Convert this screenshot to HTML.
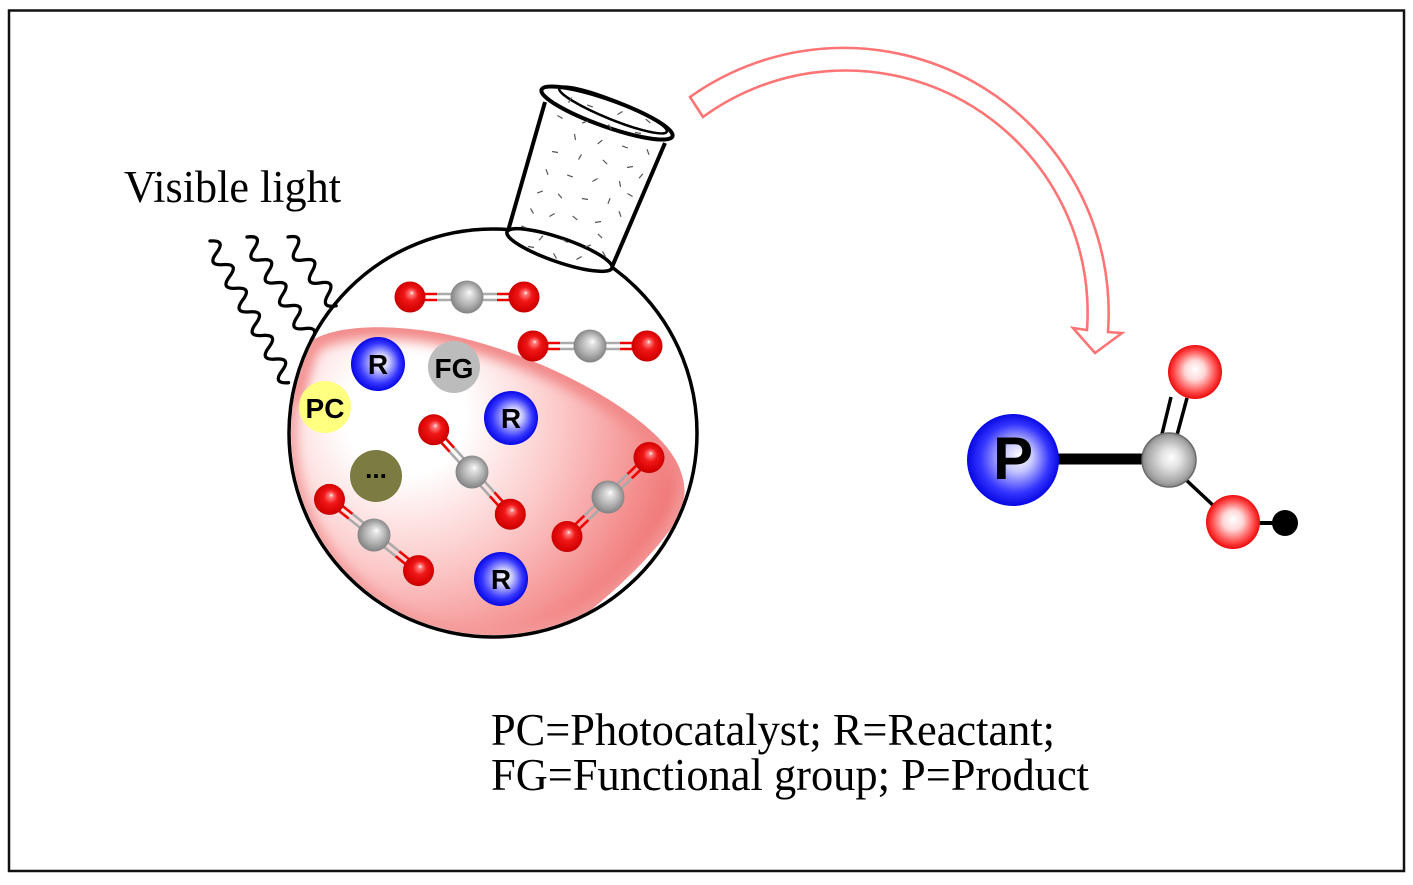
<!DOCTYPE html>
<html><head><meta charset="utf-8"><style>
html,body{margin:0;padding:0;background:#fff;}
svg{display:block;}
</style></head><body>
<svg width="1413" height="885" viewBox="0 0 1413 885" xmlns="http://www.w3.org/2000/svg">
<defs>
<radialGradient id="gO" cx="0.5" cy="0.5" r="0.55" fx="0.56" fy="0.36">
<stop offset="0" stop-color="#fff"/><stop offset="0.12" stop-color="#ff7a7a"/><stop offset="0.4" stop-color="#f01818"/><stop offset="0.85" stop-color="#d40000"/><stop offset="1" stop-color="#a00000"/>
</radialGradient>
<radialGradient id="gC" cx="0.5" cy="0.5" r="0.55" fx="0.58" fy="0.36">
<stop offset="0" stop-color="#fff"/><stop offset="0.15" stop-color="#e4e4e4"/><stop offset="0.55" stop-color="#b4b4b4"/><stop offset="1" stop-color="#787878"/>
</radialGradient>
<radialGradient id="gB" cx="0.5" cy="0.5" r="0.52" fx="0.58" fy="0.45">
<stop offset="0" stop-color="#fff"/><stop offset="0.3" stop-color="#c8c8ff"/><stop offset="0.72" stop-color="#3535ff"/><stop offset="1" stop-color="#0000e0"/>
</radialGradient>
<radialGradient id="gPO" cx="0.5" cy="0.5" r="0.52" fx="0.5" fy="0.45">
<stop offset="0" stop-color="#fff"/><stop offset="0.35" stop-color="#ffd8d8"/><stop offset="0.75" stop-color="#ff4a4a"/><stop offset="1" stop-color="#e80000"/>
</radialGradient>
<radialGradient id="gPC" cx="0.5" cy="0.5" r="0.52" fx="0.55" fy="0.45">
<stop offset="0" stop-color="#fff"/><stop offset="0.35" stop-color="#e2e2e2"/><stop offset="0.8" stop-color="#a8a8a8"/><stop offset="1" stop-color="#808080"/>
</radialGradient>
<radialGradient id="gL" gradientUnits="userSpaceOnUse" cx="405" cy="415" r="300">
<stop offset="0" stop-color="#fff"/><stop offset="0.2" stop-color="#fff"/><stop offset="0.52" stop-color="#fcc8c8"/><stop offset="0.82" stop-color="#f48c8c"/><stop offset="1" stop-color="#ee6a6a"/>
</radialGradient>
<clipPath id="cc"><circle cx="493" cy="433" r="202"/></clipPath>
<clipPath id="cb"><path d="M305 345 C330 325 380 325 420 330 C500 340 600 385 650 430 C690 465 692 500 672 527 C645 565 600 605 540 650 L260 680 L260 345 Z"/></clipPath>
<filter id="bl" x="-20%" y="-20%" width="140%" height="140%"><feGaussianBlur stdDeviation="6"/></filter>
</defs>

<rect x="9" y="10.5" width="1395" height="860.5" fill="none" stroke="#111" stroke-width="2.5"/>

<!-- liquid -->
<g clip-path="url(#cc)">
<g clip-path="url(#cb)">
<rect x="260" y="300" width="460" height="400" fill="url(#gL)"/>
<path d="M290 400 L305 345 C330 325 380 325 420 330 C500 340 600 385 650 430 C690 465 692 500 672 527 C645 565 600 605 540 650" fill="none" stroke="#f28888" stroke-width="22" filter="url(#bl)"/>
<circle cx="493" cy="433" r="204" fill="none" stroke="#f49a9a" stroke-width="14" filter="url(#bl)"/>
</g>
</g>
<circle cx="493" cy="433" r="204" fill="none" stroke="#000" stroke-width="3.5"/>

<!-- neck -->
<path d="M541 92 L673 137 L612 268 L507 232 Z" fill="#fff"/>
<ellipse cx="559.5" cy="250" rx="55.5" ry="12" transform="rotate(19 559.5 250)" fill="#fff" stroke="#000" stroke-width="3.5"/>
<line x1="545" y1="102" x2="508" y2="231" stroke="#000" stroke-width="4"/>
<line x1="665" y1="143" x2="612" y2="267" stroke="#000" stroke-width="4"/>
<ellipse cx="607" cy="113" rx="69.5" ry="13.5" transform="rotate(19.6 607 113)" fill="#fff" stroke="#000" stroke-width="4"/>
<ellipse cx="613" cy="110" rx="58" ry="9.5" transform="rotate(22 613 110)" fill="none" stroke="#000" stroke-width="2.5"/>
<g stroke="#555" stroke-width="1.2" fill="none">
<path d="M-3 0h6" transform="translate(590 106) rotate(20)"/>
<path d="M-3 0h6" transform="translate(620 113) rotate(-30)"/>
<path d="M-3 0h6" transform="translate(648 121) rotate(40)"/>
<path d="M-3 0h6" transform="translate(570 100) rotate(-60)"/>
<path d="M-3 0h6" transform="translate(560 117) rotate(30)"/>
<path d="M-3 0h6" transform="translate(585 122) rotate(-20)"/>
<path d="M-3 0h6" transform="translate(610 127) rotate(60)"/>
<path d="M-3 0h6" transform="translate(638 133) rotate(10)"/>
<path d="M-3 0h6" transform="translate(575 137) rotate(80)"/>
<path d="M-3 0h6" transform="translate(600 142) rotate(-40)"/>
<path d="M-3 0h6" transform="translate(625 147) rotate(20)"/>
<path d="M-3 0h6" transform="translate(648 152) rotate(70)"/>
<path d="M-3 0h6" transform="translate(555 152) rotate(10)"/>
<path d="M-3 0h6" transform="translate(580 157) rotate(-60)"/>
<path d="M-3 0h6" transform="translate(605 162) rotate(45)"/>
<path d="M-3 0h6" transform="translate(630 167) rotate(-10)"/>
<path d="M-3 0h6" transform="translate(547 172) rotate(70)"/>
<path d="M-3 0h6" transform="translate(570 176) rotate(20)"/>
<path d="M-3 0h6" transform="translate(595 180) rotate(-30)"/>
<path d="M-3 0h6" transform="translate(620 184) rotate(80)"/>
<path d="M-3 0h6" transform="translate(641 176) rotate(-50)"/>
<path d="M-3 0h6" transform="translate(540 192) rotate(-20)"/>
<path d="M-3 0h6" transform="translate(560 196) rotate(50)"/>
<path d="M-3 0h6" transform="translate(585 199) rotate(10)"/>
<path d="M-3 0h6" transform="translate(609 201) rotate(-70)"/>
<path d="M-3 0h6" transform="translate(630 195) rotate(30)"/>
<path d="M-3 0h6" transform="translate(532 211) rotate(60)"/>
<path d="M-3 0h6" transform="translate(552 215) rotate(-30)"/>
<path d="M-3 0h6" transform="translate(575 218) rotate(40)"/>
<path d="M-3 0h6" transform="translate(598 222) rotate(-10)"/>
<path d="M-3 0h6" transform="translate(620 214) rotate(70)"/>
<path d="M-3 0h6" transform="translate(524 227) rotate(20)"/>
<path d="M-3 0h6" transform="translate(541 238) rotate(-50)"/>
<path d="M-3 0h6" transform="translate(565 241) rotate(30)"/>
<path d="M-3 0h6" transform="translate(588 246) rotate(-20)"/>
<path d="M-3 0h6" transform="translate(604 254) rotate(60)"/>
<path d="M-3 0h6" transform="translate(555 256) rotate(60)"/>
<path d="M-3 0h6" transform="translate(579 258) rotate(-30)"/>
<path d="M-3 0h6" transform="translate(600 236) rotate(45)"/>
<path d="M-3 0h6" transform="translate(531 247) rotate(10)"/>
</g>

<!-- light waves -->
<g fill="none" stroke="#000" stroke-width="3.3" stroke-linecap="round">
<path transform="translate(210 241) rotate(61)" d="M0 0 q6.75 -15 13.5 0 t13.5 0 t13.5 0 t13.5 0 t13.5 0 t13.5 0 t13.5 0 t13.5 0 t13.5 0 t13.5 0 t13.5 0 t13.5 0"/>
<path transform="translate(247 237) rotate(58)" d="M0 0 q6.75 -15 13.5 0 t13.5 0 t13.5 0 t13.5 0 t13.5 0 t13.5 0 t13.5 0 t13.5 0 t13.5 0"/>
<path transform="translate(288 237) rotate(55)" d="M0 0 q7 -15 14 0 t14 0 t14 0 t14 0 t14 0 t14 0"/>
</g>
<text x="124" y="202" font-family="Liberation Serif, serif" font-size="45" textLength="217" lengthAdjust="spacingAndGlyphs">Visible light</text>

<!-- CO2 bonds -->
<g stroke-width="2.6">
<g transform="translate(467 297)"><path d="M-44 -3H-30M-44 3H-30M30 -3H44M30 3H44" stroke="#e00"/><path d="M-30 -3H-14M-30 3H-14M14 -3H30M14 3H30" stroke="#aaa"/></g>
<g transform="translate(590 346)"><path d="M-44 -3H-30M-44 3H-30M30 -3H44M30 3H44" stroke="#e00"/><path d="M-30 -3H-14M-30 3H-14M14 -3H30M14 3H30" stroke="#aaa"/></g>
<g transform="translate(472 472) rotate(47.8)"><path d="M-44 -3H-30M-44 3H-30M30 -3H44M30 3H44" stroke="#e00"/><path d="M-30 -3H-14M-30 3H-14M14 -3H30M14 3H30" stroke="#aaa"/></g>
<g transform="translate(608 497) rotate(-43.9)"><path d="M-44 -3H-30M-44 3H-30M30 -3H44M30 3H44" stroke="#e00"/><path d="M-30 -3H-14M-30 3H-14M14 -3H30M14 3H30" stroke="#aaa"/></g>
<g transform="translate(374 535) rotate(38.7)"><path d="M-44 -3H-30M-44 3H-30M30 -3H44M30 3H44" stroke="#e00"/><path d="M-30 -3H-14M-30 3H-14M14 -3H30M14 3H30" stroke="#aaa"/></g>
</g>
<!-- CO2 spheres -->
<g>
<circle cx="410" cy="297" r="15.5" fill="url(#gO)"/><circle cx="467" cy="297" r="16.5" fill="url(#gC)"/><circle cx="524" cy="297" r="15.5" fill="url(#gO)"/>
<circle cx="533" cy="346" r="15.5" fill="url(#gO)"/><circle cx="590" cy="346" r="16.5" fill="url(#gC)"/><circle cx="647" cy="346" r="15.5" fill="url(#gO)"/>
<circle cx="433.7" cy="429.8" r="15.5" fill="url(#gO)"/><circle cx="472" cy="472" r="16.5" fill="url(#gC)"/><circle cx="510.3" cy="514.2" r="15.5" fill="url(#gO)"/>
<circle cx="649" cy="457.5" r="15.5" fill="url(#gO)"/><circle cx="608" cy="497" r="16.5" fill="url(#gC)"/><circle cx="567" cy="536.5" r="15.5" fill="url(#gO)"/>
<circle cx="329.5" cy="499.4" r="15.5" fill="url(#gO)"/><circle cx="374" cy="535" r="16.5" fill="url(#gC)"/><circle cx="418.5" cy="570.6" r="15.5" fill="url(#gO)"/>
</g>

<!-- species balls -->
<g font-family="Liberation Sans, Arial, sans-serif" font-weight="bold" text-anchor="middle" fill="#000">
<circle cx="378" cy="364" r="27" fill="url(#gB)"/><text x="378" y="374" font-size="28">R</text>
<circle cx="454" cy="367" r="26" fill="#bcbcbc"/><text x="454" y="378" font-size="28">FG</text>
<circle cx="325" cy="407" r="26" fill="#ffff80"/><text x="325" y="418" font-size="28">PC</text>
<circle cx="511" cy="418" r="27" fill="url(#gB)"/><text x="511" y="428" font-size="28">R</text>
<circle cx="376" cy="476" r="26" fill="#7c7b41"/><text x="376" y="478" font-size="26">...</text>
<circle cx="501" cy="579" r="27" fill="url(#gB)"/><text x="501" y="589" font-size="28">R</text>
</g>

<!-- curved arrow -->
<path d="M690 97 A265 265 0 0 1 1108 332 L1122 333 L1095 353 L1073 328 L1087 330 A242 242 0 0 0 703 117 Z" fill="#fff" stroke="#ff7474" stroke-width="2.6" stroke-linejoin="miter"/>

<!-- product -->
<line x1="1050" y1="459" x2="1150" y2="459" stroke="#000" stroke-width="11"/>
<line x1="1162" y1="434" x2="1171" y2="397" stroke="#000" stroke-width="3.5"/>
<line x1="1177" y1="435" x2="1187" y2="398" stroke="#000" stroke-width="3.5"/>
<line x1="1184" y1="478" x2="1216" y2="508" stroke="#000" stroke-width="3.5"/>
<line x1="1255" y1="523" x2="1280" y2="523" stroke="#000" stroke-width="4"/>
<circle cx="1013" cy="460" r="46" fill="url(#gB)"/>
<text x="1013" y="479" font-family="Liberation Sans, Arial, sans-serif" font-weight="bold" font-size="60" text-anchor="middle">P</text>
<circle cx="1169" cy="460" r="27" fill="url(#gPC)" stroke="#6a6a6a" stroke-width="1.5"/>
<circle cx="1195" cy="372" r="27" fill="url(#gPO)"/>
<circle cx="1233" cy="522" r="27" fill="url(#gPO)"/>
<circle cx="1285" cy="523" r="13" fill="#000"/>

<!-- legend -->
<g font-family="Liberation Serif, serif" font-size="45" fill="#000">
<text x="491" y="745" textLength="564" lengthAdjust="spacingAndGlyphs">PC=Photocatalyst; R=Reactant;</text>
<text x="491" y="790" textLength="598" lengthAdjust="spacingAndGlyphs">FG=Functional group; P=Product</text>
</g>
</svg>
</body></html>
